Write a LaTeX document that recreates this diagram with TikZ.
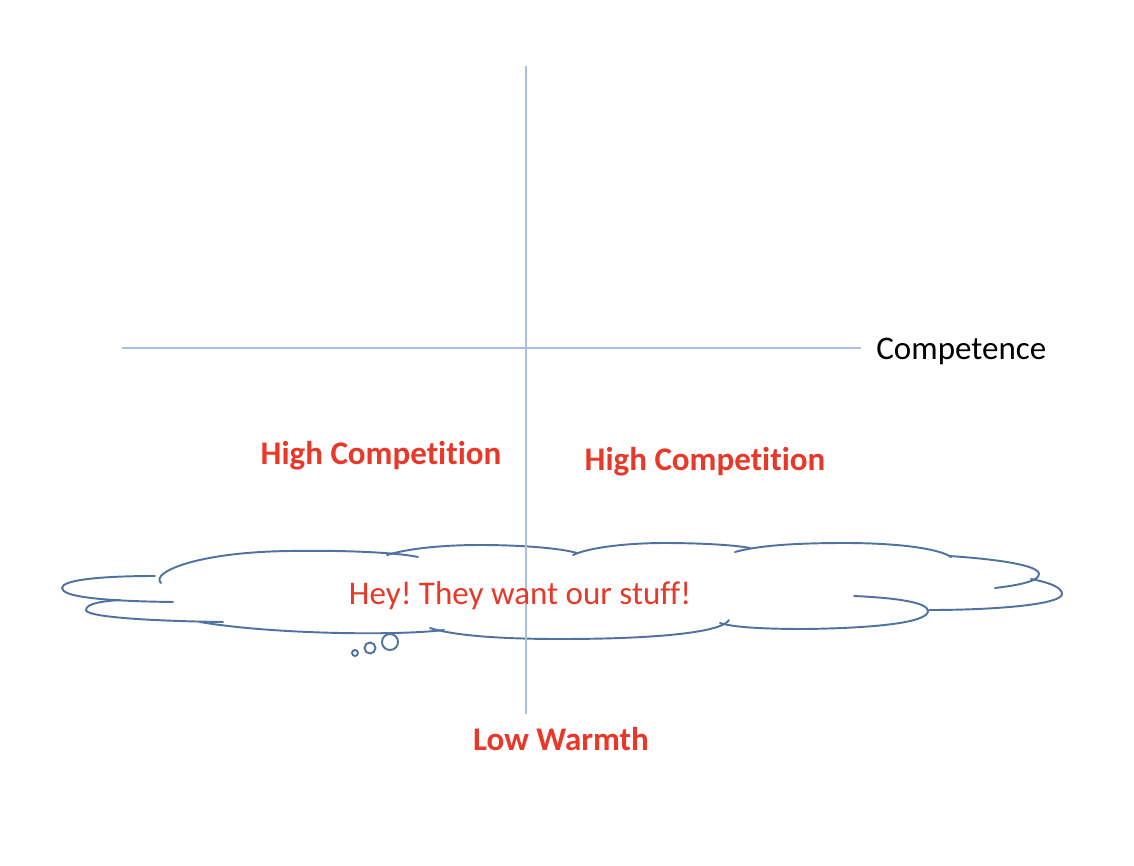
\documentclass[tikz,border=0pt]{standalone}
\usepackage{fontspec}
\setmainfont{Carlito}[Ligatures=NoCommon]
\frenchspacing
\definecolor{axisblue}{RGB}{167,193,226}
\definecolor{cloudblue}{RGB}{79,114,160}
\definecolor{labelred}{RGB}{233,55,40}
\begin{document}
\begin{tikzpicture}[x=0.02cm, y=-0.02cm,
    axis/.style={draw=axisblue, line width=0.8pt},
    puff/.style={draw=cloudblue, line width=1.1pt, line cap=round},
    lbl/.style={inner sep=0pt, font=\fontsize{18.8}{22}\selectfont},
    redlbl/.style={lbl, text=labelred, font=\fontsize{18.8}{22}\selectfont\bfseries}]
    \useasboundingbox (0,0) rectangle (1134,866);

    % cloud
    \draw[puff] (173,602) .. controls (95,601) and (62,596) .. (62,588) .. controls (62,580) and (100,576) .. (155,576);
    \draw[puff] (161,583) .. controls (150,573) and (195,552) .. (290,551) .. controls (350,550) and (400,553) .. (418,557);
    \draw[puff] (387,555) .. controls (410,548) and (445,545) .. (480,545) .. controls (520,545) and (560,548) .. (577,553);
    \draw[puff] (573,555) .. controls (590,547) and (630,543) .. (664,543) .. controls (700,543) and (735,545) .. (750,548);
    \draw[puff] (735,552) .. controls (760,545) and (800,543) .. (845,543) .. controls (900,543) and (940,549) .. (951,557);
    \draw[puff] (949,556) .. controls (995,559) and (1039,565) .. (1039,574) .. controls (1039,581) and (1020,585) .. (995,588);
    \draw[puff] (1031,579) .. controls (1052,583) and (1062,588) .. (1062,594) .. controls (1062,604) and (1000,610) .. (929,610);
    \draw[puff] (854,596) .. controls (900,598) and (928,603) .. (928,611) .. controls (928,622) and (880,628) .. (805,629) .. controls (760,629) and (732,627) .. (720,623);
    \draw[puff] (729,620) .. controls (722,632) and (660,639) .. (560,639) .. controls (495,639) and (452,635) .. (430,628);
    \draw[puff] (444,630) .. controls (395,636) and (270,634) .. (200,622);
    \draw[puff] (223,622) .. controls (150,621) and (86,617) .. (86,610) .. controls (86,603) and (105,601) .. (120,600);
    \draw[puff] (390,642) circle[radius=8];
    \draw[puff] (370,648) circle[radius=5.5];
    \draw[puff] (355,653) circle[radius=3];

    % axes
    \coordinate (top) at (526,66);
    \coordinate (bottom) at (526,714);
    \coordinate (left) at (122,348);
    \coordinate (right) at (861,348);
    \draw[axis] (top) -- (bottom);
    \draw[axis] (left) -- (right);

    % labels
    \node[lbl, anchor=base west] (comp) at (876,359) {Competence};
    \node[redlbl, anchor=base] (hcl) at (381,464) {High Competition};
    \node[redlbl, anchor=base] (hcr) at (705,470) {High Competition};
    \node[redlbl, anchor=base] (warm) at (561,750) {Low Warmth};
    \node[lbl, text=labelred, anchor=base] (hey) at (520,604) {Hey! They want our stuff!};
\end{tikzpicture}
\end{document}
